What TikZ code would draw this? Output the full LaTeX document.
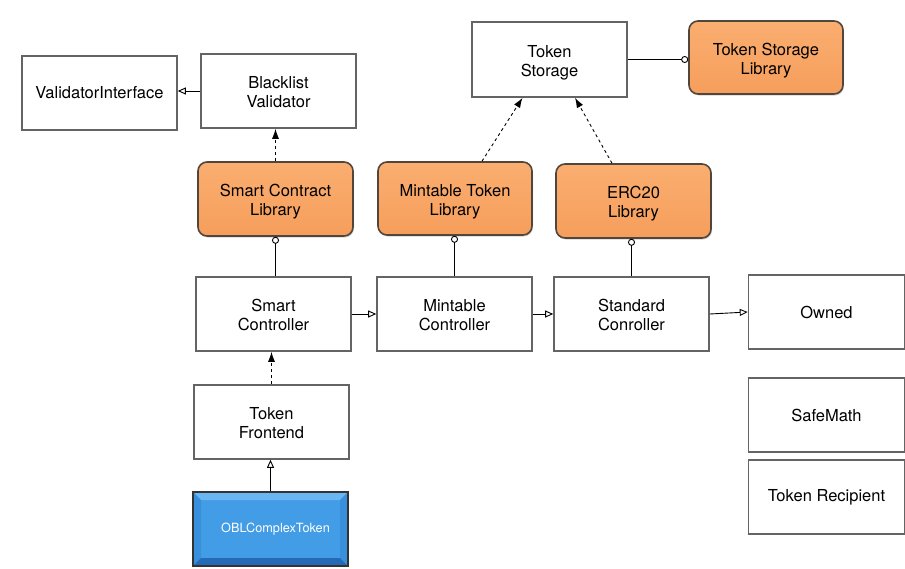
\documentclass[tikz,border=0pt]{standalone}
\usepackage{fontspec}
\setmainfont{TeX Gyre Heros}
\usetikzlibrary{calc,positioning,arrows.meta,shapes,shadows}
\definecolor{liborange}{RGB}{246,158,92}
\definecolor{liborangetop}{RGB}{250,174,112}
\definecolor{libedge}{RGB}{80,70,60}
\definecolor{tokblue}{RGB}{66,156,230}
\definecolor{tokbluetop}{RGB}{105,182,242}
\definecolor{tokblueside}{RGB}{56,144,220}
\definecolor{tokbluebot}{RGB}{36,106,180}
\definecolor{boxedge}{RGB}{100,100,100}

\begin{document}
\begin{tikzpicture}[
  x=1pt,y=-1pt,
  font=\fontsize{16.5}{19}\selectfont,
  class/.style={rectangle,draw=boxedge,line width=1.6pt,fill=white,minimum width=155pt,minimum height=74pt,align=center,inner sep=0pt},
  twoline/.style={text height=33pt,text depth=0pt},
  lib/.style={class,twoline,rounded corners=9pt,draw=libedge,top color=liborangetop,bottom color=liborange,drop shadow={opacity=.35,shadow xshift=1pt,shadow yshift=-1.5pt}},
  contract/.style={class,draw=black!80,line width=1.4pt,fill=tokblue,text=white,font=\fontsize{12.7}{15}\selectfont,
    path picture={
      \fill[tokbluetop] (path picture bounding box.north west) -- (path picture bounding box.north east) -- ++(-8,8) -- ($(path picture bounding box.north west)+(8,8)$) -- cycle;
      \fill[tokblueside] (path picture bounding box.north west) -- ++(8,8) -- ($(path picture bounding box.south west)+(8,-8)$) -- (path picture bounding box.south west) -- cycle;
      \fill[tokblueside] (path picture bounding box.north east) -- ++(-8,8) -- ($(path picture bounding box.south east)+(-8,-8)$) -- (path picture bounding box.south east) -- cycle;
      \fill[tokbluebot] (path picture bounding box.south west) -- (path picture bounding box.south east) -- ++(-8,-8) -- ($(path picture bounding box.south west)+(8,-8)$) -- cycle;
    }},
  inherit/.style={-{Triangle[open,length=8pt,width=7pt]},line width=.9pt},
  uses/.style={-{Latex[length=10pt,width=7pt]},dashed,line width=.9pt},
  link/.style={-{Circle[open,length=7pt]},line width=.9pt},
  ]

  \useasboundingbox (0,0) rectangle (905,568);

  %validators
  \node (validator_iface) [class] at(99.5,93) {ValidatorInterface};
  \node (blacklist) [class,twoline] at(278.5,91) {Blacklist\\Validator};

  %storage
  \node (tok_storage) [class,twoline,minimum height=75pt] at(549.5,59.5) {Token\\Storage};
  \node (storage_lib) [lib,minimum width=154pt,minimum height=73pt] at(766,57.5) {Token Storage\\Library};

  %libraries
  \node (sc_lib) [lib] at(275.5,199) {Smart Contract\\Library};
  \node (mint_lib) [lib,minimum width=154pt,minimum height=73pt] at(455,198.5) {Mintable Token\\Library};
  \node (erc_lib) [lib] at(633.5,201) {ERC20\\Library};

  %controllers
  \node (smart_ctrl) [class,twoline] at(273.5,314) {Smart\\Controller};
  \node (mint_ctrl) [class,twoline] at(454.5,314) {Mintable\\Controller};
  \node (std_ctrl) [class,twoline] at(631.5,314) {Standard\\Conroller};

  %right column
  \foreach \n/\y/\t in {owned/312/Owned,safemath/415/SafeMath,recipient/497/Token Recipient}
   {
     \node (\n) [class,minimum width=156pt] at(826.5,\y) {\t};
   }

  %token
  \node (frontend) [class,twoline] at(271.5,422) {Token\\Frontend};
  \node (obl_token) [contract] at(270.5,529) {\hspace*{10pt}OBLComplexToken};

  %inheritance
  \draw[inherit] (blacklist.west) -- (blacklist.west -| validator_iface.east);
  \draw[inherit] (smart_ctrl.east) -- (mint_ctrl.west);
  \draw[inherit] (mint_ctrl.east) -- (std_ctrl.west);
  \draw[inherit] (std_ctrl.east) -- (owned.west);
  \draw[inherit] (obl_token.north) -- (obl_token.north |- frontend.south);

  %dependencies
  \draw[uses] (sc_lib.north) -- (sc_lib.north |- blacklist.south);
  \draw[uses] (frontend.north) -- (frontend.north |- smart_ctrl.south);
  \draw[uses] ($(mint_lib.north)+(27,0)$) -- ($(tok_storage.south)+(-27,0)$);
  \draw[uses] ($(erc_lib.north)+(-21.5,0)$) -- ($(tok_storage.south)+(25.5,0)$);

  %library links
  \draw[link] (smart_ctrl.north -| sc_lib.south) -- (sc_lib.south);
  \draw[link] (mint_ctrl.north) -- (mint_ctrl.north |- mint_lib.south);
  \draw[link] (std_ctrl.north) -- (std_ctrl.north |- erc_lib.south);
  \draw[link] (tok_storage.east) -- (tok_storage.east -| storage_lib.west);

\end{tikzpicture}
\end{document}
